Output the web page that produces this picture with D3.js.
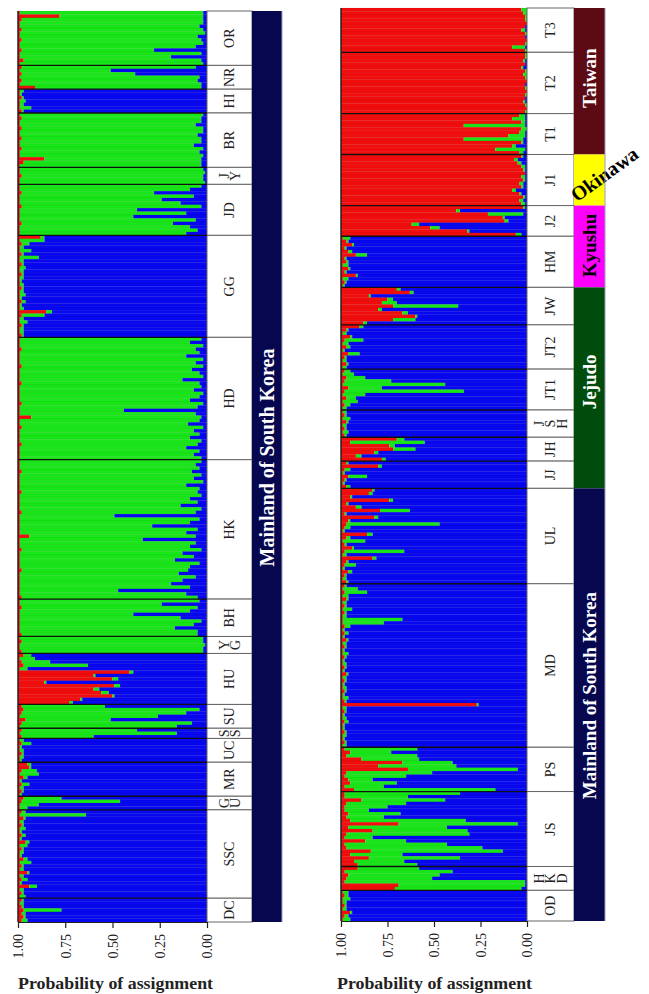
<!DOCTYPE html>
<html>
<head>
<meta charset="utf-8">
<script src="https://cdn.jsdelivr.net/npm/d3@7"></script>
<style>
  body { margin: 0; background: #fff; }
  svg { display: block; font-family: "Liberation Serif", "Times New Roman", serif; }
</style>
</head>
<body>
<svg class="svg"></svg>
<script>
// population labels, top to bottom ("\n" = stacked letters)
const leftLabels = ['OR', 'NR', 'HI', 'BR', 'J\nY', 'JD', 'GG', 'HD', 'HK', 'BH', 'Y\nG', 'HU', 'SU', 'S\nS', 'UC', 'MR', 'G\nU', 'SSC', 'DC'];
const rightLabels = ['T3', 'T2', 'T1', 'J1', 'J2', 'HM', 'JW', 'JT2', 'JT1', 'J\nS\nH', 'JH', 'JJ', 'UL', 'MD', 'PS', 'JS', 'H\nK\nD', 'OD'];

// per individual [red %, green %] (blue = rest), top to bottom
const leftQ = [
  [[1,97],[22,76],[2,96],[1,97],[1,95],[2,96],[1,98],[1,94],[2,95],[1,97],[1,93],[2,70],[1,96],[1,80],[3,94],[1,97]],
  [[2,92],[1,48],[2,60],[1,95],[2,93],[1,96],[9,88]],
  [[1,2],[1,1],[2,1],[1,3],[1,2],[1,6],[2,1]],
  [[1,97],[2,95],[1,96],[1,93],[2,96],[1,97],[1,94],[2,95],[1,96],[1,92],[2,96],[1,95],[1,97],[14,83],[3,94],[1,96]],
  [[1,97],[1,98],[2,96],[1,97],[1,98]],
  [[1,96],[1,90],[2,70],[1,92],[1,75],[1,85],[2,95],[1,62],[1,88],[1,60],[1,93],[2,80],[1,90],[1,94],[1,88]],
  [[12,2],[1,13],[2,4],[1,2],[1,6],[2,1],[1,10],[1,2],[2,1],[1,3],[1,2],[2,1],[1,2],[1,1],[1,2],[2,1],[1,2],[1,3],[1,1],[2,2],[1,1],[1,2],[15,3],[2,12],[1,2],[1,4],[2,1],[1,2],[1,2],[2,1]],
  [[1,96],[1,90],[1,97],[2,92],[1,95],[1,88],[1,97],[1,93],[2,96],[1,91],[1,95],[1,97],[1,86],[2,94],[1,96],[1,92],[1,97],[1,95],[1,90],[2,96],[1,94],[1,55],[1,93],[7,90],[1,95],[1,89],[2,96],[1,92],[1,95],[1,90],[1,96],[2,93],[1,88],[1,95],[1,92],[1,96]],
  [[1,96],[1,93],[1,95],[2,90],[1,96],[1,92],[1,97],[1,88],[1,95],[2,93],[1,96],[1,90],[1,94],[1,85],[1,96],[2,92],[1,50],[1,95],[1,90],[1,70],[1,94],[1,88],[6,88],[1,65],[1,93],[1,90],[2,95],[1,86],[1,92],[1,82],[1,95],[1,90],[2,88],[1,84],[1,93],[1,86],[1,80],[1,90],[1,52],[1,88],[2,93]],
  [[1,95],[1,75],[2,93],[1,90],[1,60],[1,85],[1,96],[1,92],[1,82],[1,94],[2,93]],
  [[1,97],[2,96],[1,98],[1,97],[2,96]],
  [[3,4],[1,8],[2,15],[3,34],[1,4],[59,2],[40,1],[50,3],[14,1],[51,3],[40,3],[44,4],[50,1],[33,1],[27,2]],
  [[2,44],[3,93],[2,87],[1,73],[4,45],[2,90],[1,83]],
  [[2,61],[1,83],[2,38]],
  [[1,2],[2,5],[1,1],[1,2],[2,1],[1,2],[1,1]],
  [[5,2],[6,1],[2,8],[1,10],[3,2],[1,1],[2,4],[1,2],[2,1],[1,1]],
  [[3,20],[2,52],[1,10],[1,4]],
  [[2,2],[1,35],[3,1],[1,2],[2,1],[1,3],[1,1],[2,2],[1,1],[4,2],[1,4],[2,1],[1,2],[1,1],[3,2],[1,6],[2,1],[1,2],[5,1],[1,2],[2,3],[1,1],[6,4],[1,2],[2,1],[1,3]],
  [[2,1],[1,2],[2,1],[3,20],[2,2],[3,1],[2,3]]
];

const rightQ = [
  [[97,3],[98,2],[99,1],[99,1],[100,0],[99,0],[97,2],[99,1],[99,0],[100,0],[99,1],[92,7],[99,1]],
  [[99,1],[99,1],[98,1],[99,0],[97,1],[99,1],[98,2],[99,1],[100,0],[99,0],[99,1],[100,0],[99,1],[99,0],[98,1],[99,1],[100,0],[99,1]],
  [[96,3],[92,7],[97,2],[66,33],[97,3],[96,3],[90,9],[66,32],[97,1],[92,2],[83,16],[96,2]],
  [[97,1],[93,2],[95,2],[97,2],[98,1],[99,0],[97,2],[98,1],[96,2],[97,1],[92,2],[96,1],[98,1],[96,2],[97,2]],
  [[98,1],[62,2],[79,19],[87,1],[88,2],[38,4],[48,5],[68,1],[94,3]],
  [[1,4],[3,1],[6,1],[2,1],[4,2],[8,6],[2,1],[3,1],[1,3],[4,1],[2,1],[8,1],[1,3],[2,1],[1,1]],
  [[30,2],[37,2],[15,1],[25,3],[22,8],[28,35],[20,2],[33,3],[40,1],[28,12],[12,2]],
  [[10,2],[3,1],[1,2],[5,1],[2,10],[1,3],[3,2],[1,1],[4,6],[2,1],[1,2],[3,1],[1,2]],
  [[2,3],[1,6],[3,10],[2,25],[1,55],[4,18],[2,64],[1,12],[3,5],[1,8],[2,3],[1,2]],
  [[1,2],[2,1],[1,4],[3,1],[1,2],[2,1],[1,3],[2,1]],
  [[30,4],[5,40],[26,3],[28,12],[18,2],[8,3],[22,2]],
  [[3,1],[20,2],[2,3],[1,1],[4,10],[2,1],[1,1],[3,2]],
  [[17,1],[15,2],[5,1],[26,2],[3,1],[8,3],[21,16],[2,1],[18,2],[4,1],[3,50],[2,3],[1,1],[14,3],[3,2],[1,12],[2,1],[6,1],[2,32],[1,2],[17,2],[3,1],[2,6],[1,1],[4,2],[2,1],[1,2],[3,1]],
  [[2,1],[1,8],[2,12],[1,3],[3,1],[1,2],[2,1],[1,5],[2,1],[1,2],[1,32],[1,22],[2,3],[1,1],[2,2],[1,1],[3,1],[1,2],[2,1],[1,1],[1,3],[2,1],[1,1],[1,2],[2,1],[1,1],[3,1],[1,2],[2,1],[1,1],[1,2],[2,1],[1,1],[1,3],[2,1],[73,1],[1,2],[2,1],[1,1],[1,2],[2,2],[1,1],[1,1],[2,1],[1,2],[1,1],[2,1],[1,2]],
  [[2,39],[5,22],[3,38],[11,31],[33,27],[20,42],[36,59],[3,46],[2,33],[4,13],[5,25],[2,21],[7,76]],
  [[2,62],[2,34],[11,45],[3,32],[2,23],[2,13],[4,28],[3,20],[5,62],[31,64],[4,53],[17,51],[3,66],[2,15],[13,22],[2,55],[3,73],[16,71],[5,28],[15,49],[7,27],[9,32]],
  [[9,33],[2,58],[4,49],[3,46],[2,97],[31,68],[29,68]],
  [[1,3],[2,2],[1,4],[1,2],[2,1],[1,2],[5,1],[2,2],[1,4]]
];

// regions: name and first/last population index
const leftRegions = [['Mainland of South Korea', 0, 18]];
const rightRegions = [['Taiwan', 0, 2], ['Okinawa', 3, 3], ['Kyushu', 4, 5], ['Jejudo', 6, 11], ['Mainland of South Korea', 12, 17]];

const ticks = [1, 0.75, 0.5, 0.25, 0];

const colors = ['#f20d0d', '#18e618', '#0707f0'];
const regionStyle = {
  'Mainland of South Korea': { fill: '#07074f', text: '#fff', shift: -9 },
  'Taiwan': { fill: '#5c0a14', text: '#fff', shift: -3 },
  'Okinawa': { fill: '#ffff00', text: '#000' },
  'Kyushu': { fill: '#ff00ff', text: '#000', shift: -1 },
  'Jejudo': { fill: '#004c0c', text: '#fff', shift: -6 }
};

const svg = d3.select('.svg').attr('width', 649).attr('height', 994);

function drawPanel(cfg, labels, q, regions) {
  const inds = [];
  const bounds = [];
  q.forEach((pop, pi) => {
    const start = inds.length;
    pop.forEach(d => inds.push({ pop: pi, r: d[0] / 100, g: d[1] / 100 }));
    bounds.push([start, inds.length - 1]);
  });

  const y = d3.scaleBand().domain(d3.range(inds.length)).range([cfg.top, cfg.bottom]);
  const x = d3.scaleLinear().domain([1, 0]).range([cfg.left, cfg.right]);
  const bw = y.bandwidth();
  const popTop = i => y(bounds[i][0]);
  const popBot = i => y(bounds[i][1]) + bw;

  const segs = [];
  inds.forEach((d, i) => {
    const c1 = Math.max(0, 1 - d.r);
    const c2 = Math.max(0, c1 - d.g);
    segs.push({ i, from: 1, to: c1, k: 0 });
    segs.push({ i, from: c1, to: c2, k: 1 });
    segs.push({ i, from: c2, to: 0, k: 2 });
  });

  const g = svg.append('g');

  g.append('g')
    .selectAll('rect')
    .data(segs.filter(s => s.from > s.to))
    .join('rect')
    .attr('x', s => x(s.from))
    .attr('width', s => x(s.to) - x(s.from))
    .attr('y', s => y(s.i))
    .attr('height', bw + 0.2)
    .attr('fill', s => colors[s.k]);

  // faint line between individuals
  g.append('g')
    .selectAll('line')
    .data(inds)
    .join('line')
    .attr('x1', cfg.left)
    .attr('x2', cfg.right)
    .attr('y1', (d, i) => y(i))
    .attr('y2', (d, i) => y(i))
    .attr('stroke', '#000')
    .attr('stroke-opacity', 0.13)
    .attr('stroke-width', 0.5);

  // label column
  const lx = cfg.right;
  const lw = cfg.labelW;
  g.append('g')
    .selectAll('rect')
    .data(bounds)
    .join('rect')
    .attr('x', lx)
    .attr('width', lw)
    .attr('y', (b, i) => popTop(i))
    .attr('height', (b, i) => popBot(i) - popTop(i))
    .attr('fill', '#fff')
    .attr('stroke', '#666')
    .attr('stroke-width', 1);

  // population separators over the bars
  g.append('g')
    .selectAll('line')
    .data(bounds.slice(1))
    .join('line')
    .attr('x1', cfg.left)
    .attr('x2', cfg.right)
    .attr('y1', (b, i) => popTop(i + 1))
    .attr('y2', (b, i) => popTop(i + 1))
    .attr('stroke', '#111')
    .attr('stroke-width', 1.3);

  const lab = g.append('g')
    .selectAll('text')
    .data(labels)
    .join('text')
    .attr('transform', (t, i) => `translate(${lx + lw / 2},${(popTop(i) + popBot(i)) / 2}) rotate(-90)`)
    .attr('text-anchor', 'middle')
    .attr('font-size', 14)
    .attr('fill', '#222');
  lab.each(function(t) {
    const lines = t.split('\n');
    const step = 0.82;
    d3.select(this)
      .selectAll('tspan')
      .data(lines)
      .join('tspan')
      .attr('x', 0)
      .attr('dy', (l, j) => j === 0 ? `${0.35 - (lines.length - 1) * step / 2}em` : `${step}em`)
      .text(l => l);
  });

  // region column
  const rx = lx + lw;
  const rw = cfg.regionW;
  regions.forEach(([name, a, b]) => {
    const st = regionStyle[name];
    const y0 = popTop(a);
    const y1 = popBot(b);
    g.append('rect')
      .attr('x', rx)
      .attr('width', rw)
      .attr('y', y0)
      .attr('height', y1 - y0)
      .attr('fill', st.fill);
    if (name === 'Okinawa') {
      // written on a slant, running out of the column
      g.append('text')
        .attr('transform', `translate(${rx + 3},${y1 - 3}) rotate(-36)`)
        .attr('font-size', 20)
        .attr('font-weight', 'bold')
        .attr('fill', st.text)
        .text(name);
    } else {
      g.append('text')
        .attr('transform', `translate(${rx + rw / 2},${(y0 + y1) / 2 + (st.shift || 0)}) rotate(-90)`)
        .attr('text-anchor', 'middle')
        .attr('dy', '0.35em')
        .attr('font-size', cfg.regionFont)
        .attr('font-weight', 'bold')
        .attr('fill', st.text)
        .text(name);
    }
  });
  g.append('rect')
    .attr('x', rx + rw - 0.5)
    .attr('width', 1)
    .attr('y', cfg.top)
    .attr('height', cfg.bottom - cfg.top)
    .attr('fill', '#9a9ac0');

  // left edge of the bars
  g.append('line')
    .attr('x1', cfg.left)
    .attr('x2', cfg.left)
    .attr('y1', cfg.top)
    .attr('y2', cfg.bottom)
    .attr('stroke', '#222')
    .attr('stroke-width', 1.5);

  // axis
  const ax = g.append('g')
    .attr('transform', `translate(0,${cfg.bottom})`)
    .call(d3.axisBottom(x).tickValues(ticks).tickFormat(d3.format('.2f')).tickSize(6).tickSizeOuter(0));
  ax.select('.domain').attr('stroke', '#222').attr('stroke-width', 1.2);
  ax.selectAll('.tick line').attr('stroke', '#222').attr('stroke-width', 1.2);
  ax.selectAll('.tick text')
    .attr('transform', 'rotate(-90)')
    .attr('x', -12)
    .attr('y', 0)
    .attr('dy', '0.35em')
    .attr('text-anchor', 'end')
    .attr('font-size', 14)
    .attr('font-family', '"Liberation Serif", serif')
    .attr('fill', '#222');

  g.append('text')
    .attr('x', cfg.titleX)
    .attr('y', 989)
    .attr('font-size', 16)
    .attr('font-weight', 'bold')
    .attr('textLength', 195)
    .attr('lengthAdjust', 'spacingAndGlyphs')
    .attr('fill', '#222')
    .text('Probability of assignment');
}

drawPanel({ left: 18, right: 207, top: 11, bottom: 922, labelW: 45, regionW: 30, regionFont: 20, titleX: 18 },
  leftLabels, leftQ, leftRegions);
drawPanel({ left: 341, right: 527, top: 8, bottom: 921, labelW: 47, regionW: 31, regionFont: 19, titleX: 337 },
  rightLabels, rightQ, rightRegions);
</script>
</body>
</html>
